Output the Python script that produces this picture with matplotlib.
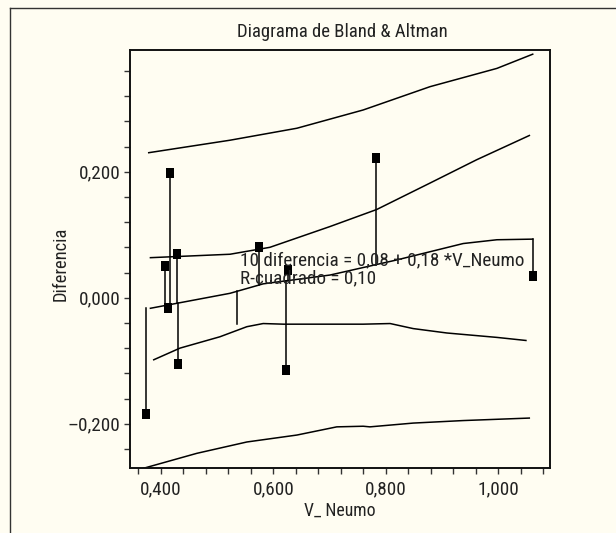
import numpy as np
import matplotlib
matplotlib.use("Agg")
import matplotlib.pyplot as plt
from matplotlib import font_manager
from matplotlib.ticker import FixedLocator, FuncFormatter
from matplotlib.lines import Line2D

# ---- data ----
v_neumo = [0.373, 0.407, 0.413, 0.416, 0.429, 0.431, 0.536, 0.575, 0.623, 0.627, 0.782, 1.063]
diferencia = [-0.185, 0.051, -0.016, 0.198, 0.070, -0.105, -0.042, 0.081, -0.115, 0.044, 0.2225, 0.034]
marcado = [True, True, True, True, True, True, False, True, True, True, True, True]

# regression (fitted) curve
ajuste_x = [0.380, 0.523, 0.582, 0.701, 0.820, 0.938, 0.998, 1.063]
ajuste_y = [-0.017, 0.007, 0.022, 0.036, 0.060, 0.086, 0.092, 0.093]

# upper / lower confidence curves
ic_sup_x = [0.380, 0.523, 0.594, 0.701, 0.784, 0.879, 0.962, 1.057]
ic_sup_y = [0.0635, 0.069, 0.080, 0.113, 0.140, 0.182, 0.219, 0.258]
ic_inf_x = [0.386, 0.434, 0.505, 0.553, 0.582, 0.618, 0.760, 0.808, 0.849, 0.909, 0.998, 1.051]
ic_inf_y = [-0.099, -0.080, -0.062, -0.046, -0.041, -0.042, -0.042, -0.041, -0.049, -0.056, -0.063, -0.068]

# upper / lower prediction curves
ip_sup_x = [0.377, 0.523, 0.642, 0.760, 0.879, 0.998, 1.063]
ip_sup_y = [0.230, 0.250, 0.269, 0.298, 0.335, 0.364, 0.387]
ip_inf_x = [0.368, 0.464, 0.553, 0.642, 0.713, 0.760, 0.772, 0.849, 0.938, 1.057]
ip_inf_y = [-0.271, -0.247, -0.229, -0.218, -0.205, -0.204, -0.205, -0.199, -0.195, -0.191]

x_ticks = [0.4, 0.6, 0.8, 1.0]
y_ticks = [-0.2, 0.0, 0.2]

titulo = "Diagrama de Bland & Altman"
x_label = "V_ Neumo"
y_label = "Diferencia"
ecuacion = "10 diferencia = 0,08 + 0,18 *V_Neumo\nR-cuadrado = 0,10"

# ---- pick a condensed sans font if one is installed ----
names = {f.name: f for f in font_manager.fontManager.ttflist}
cond = [f for f in font_manager.fontManager.ttflist
        if f.stretch in ('condensed', 'semi-condensed', 'extra-condensed') and f.style == 'normal']
scale = 1.0
chosen = None
for cand in ['Liberation Sans Narrow', 'Roboto Condensed', 'Open Sans Condensed',
             'DejaVu Sans Condensed', 'Noto Sans Condensed']:
    if cand in names:
        chosen = cand
        break
if chosen:
    plt.rcParams['font.family'] = [chosen, 'DejaVu Sans']
elif cond:
    pick = None
    for pref in ['Roboto', 'Open Sans', 'Noto Sans', 'DejaVu Sans', 'Liberation Sans']:
        for f in cond:
            if f.name == pref:
                pick = f
                break
        if pick:
            break
    if pick is None:
        pick = cond[0]
    plt.rcParams['font.family'] = [pick.name, 'DejaVu Sans']
    plt.rcParams['font.stretch'] = pick.stretch
else:
    plt.rcParams['font.family'] = ['Liberation Sans', 'DejaVu Sans']
    scale = 0.9

fs_tick = 13.8 * scale
fs_title = 13.5 * scale
fs_eq = 13.8 * scale
fs_xlab = 12.8 * scale
fs_ylab = 13.3 * scale

# ---- drawing ----
bg = '#FFFDF2'
W, H = 616, 533
fig = plt.figure(figsize=(W / 100, H / 100), dpi=100, facecolor=bg)
ax = fig.add_axes([130 / W, 1 - 468 / H, 420 / W, 418 / H], facecolor=bg)
ax.set_xlim(0.345, 1.0925)
ax.set_ylim(-0.2703, 0.3932)

lw = 1.1
for cx, cy in [(ip_sup_x, ip_sup_y), (ic_sup_x, ic_sup_y), (ajuste_x, ajuste_y),
               (ic_inf_x, ic_inf_y), (ip_inf_x, ip_inf_y)]:
    ax.plot(cx, cy, color='black', lw=lw, solid_capstyle='butt')

# residual lines from each point to the fitted curve
fit_at = np.interp(v_neumo, ajuste_x, ajuste_y)
for xv, yv, fv in zip(v_neumo, diferencia, fit_at):
    ax.plot([xv, xv], [yv, fv], color='black', lw=lw)

rect = [(-0.36, -0.5), (0.36, -0.5), (0.36, 0.5), (-0.36, 0.5), (-0.36, -0.5)]
mx = [x for x, m in zip(v_neumo, marcado) if m]
my = [y for y, m in zip(diferencia, marcado) if m]
ax.plot(mx, my, linestyle='none', marker=rect, markersize=7.5,
        color='black', markeredgewidth=0)

fig.text(240 / W, 1 - 269 / H, ecuacion, fontsize=fs_eq, ha='left', va='center',
         linespacing=1.02, color='#222222')

# ticks
def fmt(v, pos):
    s = f"{v:.3f}".replace('.', ',')
    if v < -1e-9:
        s = '\u2013' + s[1:]
    return s

ax.xaxis.set_major_locator(FixedLocator(x_ticks))
ax.xaxis.set_minor_locator(FixedLocator(list(np.round(np.arange(0.36, 1.09, 0.04), 3))))
ax.yaxis.set_major_locator(FixedLocator(y_ticks))
ax.yaxis.set_minor_locator(FixedLocator(list(np.round(np.arange(-0.24, 0.37, 0.04), 3))))
ax.xaxis.set_major_formatter(FuncFormatter(fmt))
ax.yaxis.set_major_formatter(FuncFormatter(fmt))
ax.tick_params(axis='both', which='both', direction='out', length=4, width=1.0,
               color='#333333', labelsize=fs_tick, labelcolor='#222222')
ax.tick_params(axis='x', which='major', pad=5)
ax.tick_params(axis='y', which='major', pad=3)
for sp in ax.spines.values():
    sp.set_linewidth(1.4)
    sp.set_color('#111111')

fig.text(342 / W, 1 - 32 / H, titulo, fontsize=fs_title, ha='center', va='center', color='#222222')
fig.text(340 / W, 1 - 511 / H, x_label, fontsize=fs_xlab, ha='center', va='center', color='#222222')
fig.text(61 / W, 1 - 264 / H, y_label, fontsize=fs_ylab, ha='center', va='center',
         rotation=90, color='#222222')

# outer frame (left and top edges)
fig.add_artist(Line2D([9.5 / W, 9.5 / W], [0, 1 - 7.5 / H], transform=fig.transFigure,
                      color='#333333', lw=1.0))
fig.add_artist(Line2D([9.5 / W, 1], [1 - 7.5 / H, 1 - 7.5 / H], transform=fig.transFigure,
                      color='#333333', lw=1.0))

fig.savefig('out.png', dpi=100, facecolor=bg)
